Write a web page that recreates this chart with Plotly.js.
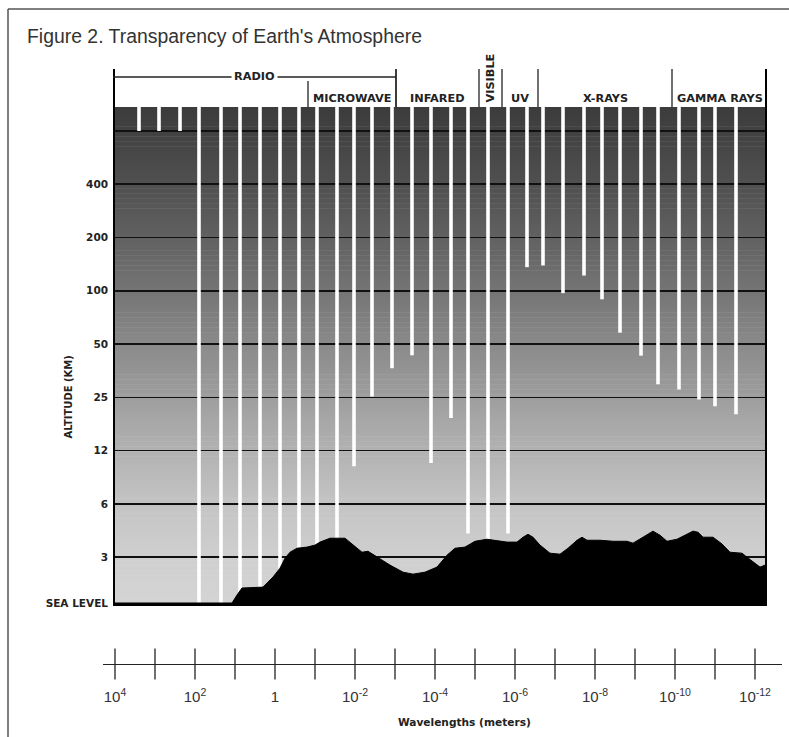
<!DOCTYPE html>
<html><head><meta charset="utf-8">
<script src="https://cdn.plot.ly/plotly-3.0.1.min.js"></script>
<style>html,body{margin:0;padding:0;background:#fff}</style>
</head><body><div id="chart" style="width:789px;height:737px"></div>
<script>
// ---- Altitude scale (km) ----
const ALT_TICK_KM   = [0, 3, 6, 12, 25, 50, 100, 200, 400, 800];
const ALT_TICK_TEXT = ['SEA LEVEL', '3', '6', '12', '25', '50', '100', '200', '400', ''];

// ---- Wavelength scale (log10 of metres) ----
const WAVE_TICK_EXP   = [4, 3, 2, 1, 0, -1, -2, -3, -4, -5, -6, -7, -8, -9, -10, -11, -12];
const WAVE_LABEL_EXP  = [4, 2, 0, -2, -4, -6, -8, -10, -12];
const WAVE_LABEL_TEXT = ['10<sup>4</sup>', '10<sup>2</sup>', '1', '10<sup>-2</sup>', '10<sup>-4</sup>',
                         '10<sup>-6</sup>', '10<sup>-8</sup>', '10<sup>-10</sup>', '10<sup>-12</sup>'];

// ---- Spectral regions (log10 wavelength spans) ----
const REGION_NAMES = ['RADIO', 'MICROWAVE', 'INFARED', 'VISIBLE', 'UV', 'X-RAYS', 'GAMMA RAYS'];
const REGION_FROM  = [4.05, -0.825, -3.025, -5.1, -5.675, -6.575, -9.925];
const REGION_TO    = [-3.025, -3.025, -5.1, -5.675, -6.575, -9.925, -12.3];

// ---- Atmospheric windows: wavelength and lowest altitude reached (km) ----
const WINDOW_EXP = [3.40, 2.90, 2.375, 1.90, 1.35, 0.875, 0.375, -0.125, -0.60, -1.05, -1.55,
                    -1.975, -2.425, -2.925, -3.425, -3.90, -4.40, -4.825, -5.325, -5.825,
                    -6.30, -6.70, -7.20, -7.725, -8.175, -8.625, -9.15, -9.575, -10.10, -10.60, -11.00, -11.525];
const WINDOW_BOTTOM_KM = [800, 800, 800, 0, 0, 0, 0, 0, 0, 0, 0,
                          9.8, 25.3, 36.5, 43.2, 10.2, 18.8, 4.08, 0, 4.08,
                          136, 139, 97, 122, 89.5, 58, 43, 29.6, 27.7, 24.3, 22.1, 19.8];

// ---- Ground profile ----
const TERRAIN_EXP = [4.05, 1.075, 0.95, 0.825, 0.30, 0.20, 0.05, -0.125, -0.25, -0.375,
  -0.55, -0.80, -1.0, -1.125, -1.375, -1.75, -1.875, -2.05, -2.175, -2.325,
  -2.55, -2.875, -3.2, -3.45, -3.75, -4.05, -4.3, -4.5, -4.75, -5.0,
  -5.3, -5.625, -5.8, -6.05, -6.2, -6.325, -6.45, -6.625, -6.875, -7.125,
  -7.325, -7.55, -7.675, -7.8, -8.125, -8.45, -8.8, -8.95, -9.2, -9.45,
  -9.625, -9.8, -10.05, -10.25, -10.45, -10.575, -10.7, -10.95, -11.175, -11.375,
  -11.675, -11.8, -12.0, -12.125, -12.25, -12.3];
const TERRAIN_KM = [0, 0, 0.52, 0.98, 1.04, 1.30, 1.70, 2.28, 2.93, 3.20,
  3.37, 3.42, 3.51, 3.65, 3.84, 3.84, 3.65, 3.37, 3.20, 3.24,
  3.0, 2.48, 2.02, 1.89, 2.02, 2.35, 3.08, 3.37, 3.42, 3.69,
  3.79, 3.69, 3.65, 3.65, 3.89, 4.04, 3.89, 3.51, 3.16, 3.12,
  3.37, 3.74, 3.89, 3.74, 3.74, 3.69, 3.69, 3.60, 3.89, 4.21,
  3.99, 3.69, 3.79, 3.99, 4.21, 4.15, 3.89, 3.89, 3.56, 3.20,
  3.16, 3.0, 2.61, 2.35, 2.48, 2.48];

// ---- layout helpers ----
const W = 789, H = 737;
const px = v => v / W, py = v => 1 - v / H;
const FIRST_STEP = 0.86;              // sea level -> 3 km spacing (in grid steps)
const ALT_POS = ALT_TICK_KM.map((k, i) => i === 0 ? 0 : FIRST_STEP + (i - 1));
const TOP = 9.31;
function pos(km) {
  if (km <= ALT_TICK_KM[1]) return km / ALT_TICK_KM[1] * ALT_POS[1];
  for (let i = 1; i < ALT_TICK_KM.length - 1; i++) {
    const a = ALT_TICK_KM[i], b = ALT_TICK_KM[i + 1];
    if (km <= b) return ALT_POS[i] + Math.log(km / a) / Math.log(b / a);
  }
  return ALT_POS[ALT_POS.length - 1];
}

// background gradient bands (styling)
const GRAD = [[0, 212], [0.86, 207], [1.86, 196], [2.86, 178], [3.86, 158], [4.86, 138],
              [5.86, 117], [6.86, 97], [7.86, 80], [8.86, 66], [9.31, 60]];
function grayAt(p) {
  for (let i = 0; i < GRAD.length - 1; i++) {
    if (p <= GRAD[i + 1][0]) {
      const t = (p - GRAD[i][0]) / (GRAD[i + 1][0] - GRAD[i][0]);
      return Math.round(GRAD[i][1] + t * (GRAD[i + 1][1] - GRAD[i][1]));
    }
  }
  return GRAD[GRAD.length - 1][1];
}
const shapes = [];
const NB = 200;
for (let i = 0; i < NB; i++) {
  const y0 = TOP * i / NB, y1 = TOP * (i + 1) / NB + 0.01;
  const g = grayAt((y0 + y1) / 2);
  shapes.push({type: 'rect', xref: 'x', yref: 'y', x0: 5, x1: -14, y0: y0, y1: y1,
               fillcolor: `rgb(${g},${g},${g})`, line: {width: 0}, layer: 'below'});
}
// frame
shapes.push({type: 'line', xref: 'paper', yref: 'paper', x0: px(8), x1: 1.01, y0: py(9), y1: py(9), line: {color: '#555', width: 1.5}});
shapes.push({type: 'line', xref: 'paper', yref: 'paper', x0: px(8), x1: px(8), y0: py(9), y1: -0.01, line: {color: '#555', width: 1.5}});
// thick side borders
[REGION_FROM[0], REGION_TO[REGION_TO.length - 1]].forEach(x => {
  shapes.push({type: 'line', xref: 'x', yref: 'paper', x0: x, x1: x, y0: py(69), y1: py(605.5), line: {color: '#000', width: 4}});
});
// region brackets
shapes.push({type: 'line', xref: 'x', yref: 'paper', x0: REGION_FROM[0], x1: REGION_TO[0], y0: py(77), y1: py(77), line: {color: '#222', width: 1.3}});
for (let i = 1; i < REGION_NAMES.length; i++) {
  const top = REGION_NAMES[i] === 'MICROWAVE' ? 81 : 69;
  shapes.push({type: 'line', xref: 'x', yref: 'paper', x0: REGION_FROM[i], x1: REGION_FROM[i], y0: py(top), y1: py(107), line: {color: '#222', width: 1.3}});
}
shapes.push({type: 'line', xref: 'x', yref: 'paper', x0: REGION_TO[0], x1: REGION_TO[0], y0: py(69), y1: py(107), line: {color: '#222', width: 1.3}});

const annotations = REGION_NAMES.map((n, i) => {
  const a = {text: n, xref: 'x', yref: 'paper', x: (REGION_FROM[i] + REGION_TO[i]) / 2,
             y: py(98), showarrow: false, xanchor: 'center', yanchor: 'middle',
             font: {family: 'DejaVu Sans', size: 11.3, color: '#222', weight: 'bold'}};
  if (n === 'RADIO') { a.y = py(77); a.bgcolor = '#fff'; a.borderpad = 2; }
  if (n === 'VISIBLE') { a.y = py(78); a.textangle = -90; }
  return a;
});
annotations.push({text: 'ALTITUDE (KM)', xref: 'paper', yref: 'paper', x: px(67.5), y: py(397),
  xanchor: 'center', yanchor: 'middle',
  textangle: -90, showarrow: false, font: {family: 'DejaVu Sans', size: 10, color: '#222', weight: 'bold'}});
annotations.push({text: 'Wavelengths (meters)', xref: 'paper', yref: 'paper', x: px(464.5), y: py(722),
  xanchor: 'center', yanchor: 'middle',
  showarrow: false, font: {family: 'DejaVu Sans', size: 10.6, color: '#222', weight: 'bold'}});

const traces = [
  {type: 'bar', x: WINDOW_EXP, base: WINDOW_EXP.map(() => TOP),
   y: WINDOW_BOTTOM_KM.map(k => pos(k) - TOP), width: 0.09,
   marker: {color: '#ffffff', line: {width: 0}}, hoverinfo: 'skip', xaxis: 'x', yaxis: 'y'},
  {type: 'scatter', mode: 'lines', x: TERRAIN_EXP, y: TERRAIN_KM.map(pos), fill: 'tozeroy',
   fillcolor: '#000', line: {color: '#000', width: 1}, hoverinfo: 'skip', xaxis: 'x', yaxis: 'y'},
  {type: 'scatter', mode: 'markers', x: WAVE_TICK_EXP, y: WAVE_TICK_EXP.map(() => 0),
   marker: {symbol: 'line-ns-open', size: 22, color: '#222', line: {width: 1.3, color: '#222'}},
   cliponaxis: false, hoverinfo: 'skip', xaxis: 'x2', yaxis: 'y2'}
];

const layout = {
  width: W, height: H, margin: {l: 0, r: 0, t: 0, b: 0},
  paper_bgcolor: '#fff', plot_bgcolor: 'rgba(0,0,0,0)', showlegend: false, barmode: 'overlay',
  title: {text: "Figure 2. Transparency of Earth's Atmosphere", xref: 'container', yref: 'container',
          x: px(27), xanchor: 'left', y: py(36), yanchor: 'middle',
          font: {family: 'Liberation Sans, Arial, sans-serif', size: 19.4, color: '#333'}},
  xaxis: {domain: [px(113), px(767)], range: [4.05, -12.3], showticklabels: false, ticks: '',
          showgrid: false, zeroline: false, showline: true, linecolor: '#000', linewidth: 3, fixedrange: true},
  yaxis: {domain: [py(603), py(107)], range: [0, TOP], tickvals: ALT_POS, ticktext: ALT_TICK_TEXT,
          ticks: '', ticklabelstandoff: 4, showgrid: true, gridcolor: '#111', gridwidth: 1.6, zeroline: false, showline: false,
          tickfont: {family: 'DejaVu Sans', size: 10.5, color: '#222', weight: 'bold'}, fixedrange: true},
  xaxis2: {domain: [px(103), px(782)], range: [4.3, -12.675], anchor: 'y2', showgrid: false, zeroline: false,
           showline: true, linecolor: '#222', linewidth: 1.3, tickvals: WAVE_LABEL_EXP, ticktext: WAVE_LABEL_TEXT,
           ticks: 'outside', ticklen: 19, tickcolor: 'rgba(0,0,0,0)',
           tickfont: {family: 'Liberation Sans Narrow, Liberation Sans, Arial, sans-serif', size: 15, color: '#333'}, fixedrange: true},
  yaxis2: {domain: [py(664), py(640)], range: [0, 1], visible: false, fixedrange: true},
  shapes: shapes, annotations: annotations
};
Plotly.newPlot('chart', traces, layout, {staticPlot: true, displayModeBar: false});
</script></body></html>
